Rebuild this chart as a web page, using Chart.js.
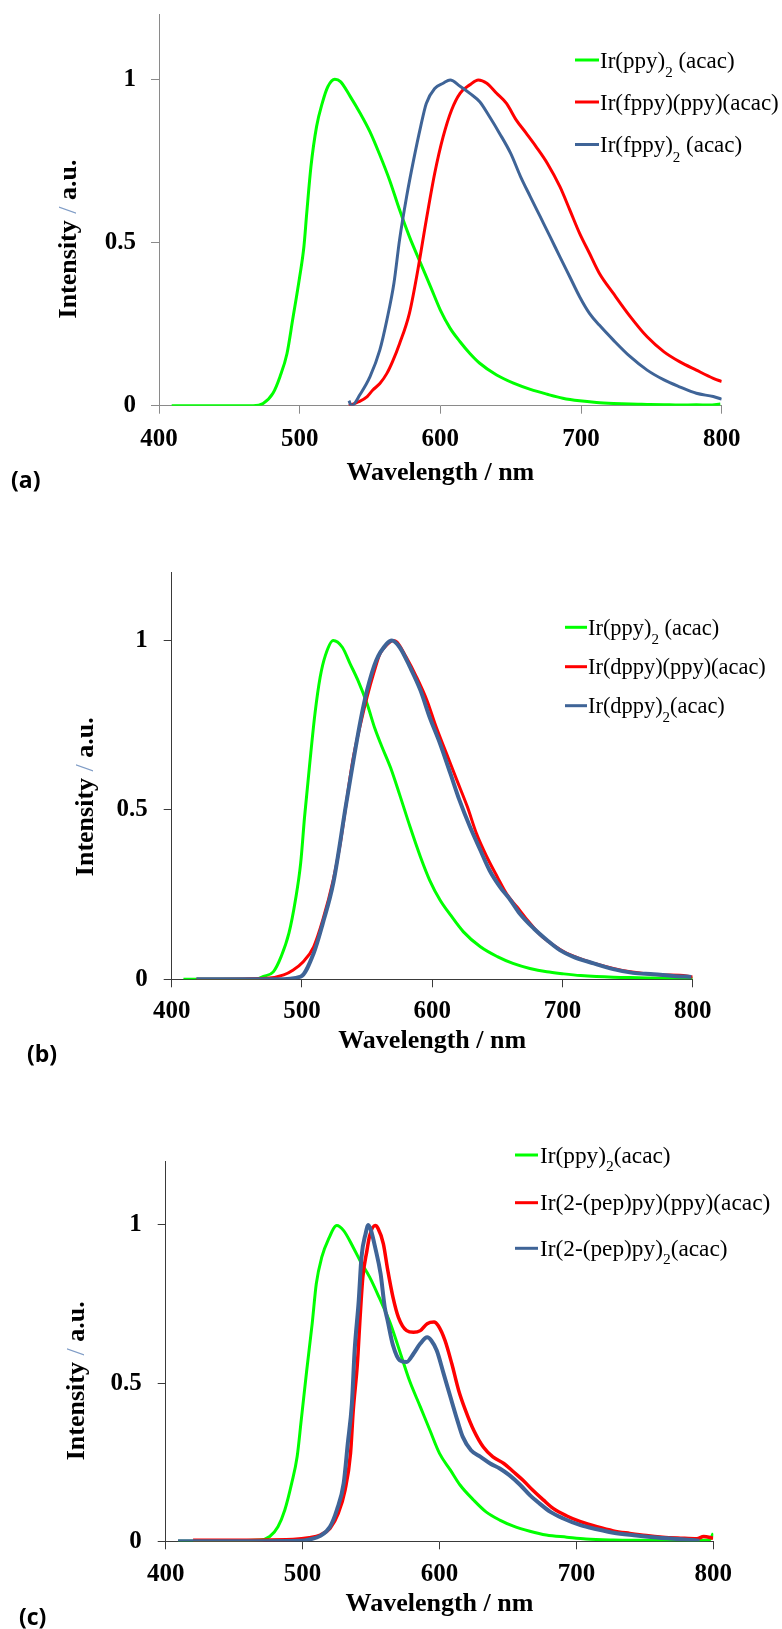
<!DOCTYPE html>
<html>
<head>
<meta charset="utf-8">
<title>Emission spectra</title>
<script src="https://cdn.jsdelivr.net/npm/chart.js@4.4.1/dist/chart.umd.min.js"></script>
<style>
  html, body { margin: 0; padding: 0; background: #fff; }
  #page { position: relative; width: 782px; height: 1629px; overflow: hidden; background: #fff; }
  canvas.panel { position: absolute; left: 0; }
  .tag { position: absolute; font-family: 'Open Sans', 'Noto Sans', sans-serif; font-weight: 700;
         font-size: 23px; line-height: 30px; color: #000; }
</style>
</head>
<body>
<div id="page">
  <canvas id="chartA" class="panel" width="782" height="500" style="top:0;width:782px;height:500px"></canvas>
  <canvas id="chartB" class="panel" width="782" height="560" style="top:500px;width:782px;height:560px"></canvas>
  <canvas id="chartC" class="panel" width="782" height="569" style="top:1060px;width:782px;height:569px"></canvas>
  <div class="tag" style="left:11px;top:464px">(a)</div>
  <div class="tag" style="left:27px;top:1038px">(b)</div>
  <div class="tag" style="left:19px;top:1601px">(c)</div>
</div>
<script>
// ---- Shared axis settings ----
const xRange = [400, 800];
const xStep = 100;
const yRange = [0, 1.2];
const yTickValues = [0, 0.5, 1];
const xAxisTitle = 'Wavelength / nm';
const yAxisTitleParts = ['Intensity', ' / ', 'a.u.'];

// ---- Panel (a): fppy series ----
const labelsA = ['Ir(ppy)₂ (acac)', 'Ir(fppy)(ppy)(acac)', 'Ir(fppy)₂ (acac)'];
const wlA_ppy = [409,467,474,481,486,491,495,500,503,505,508,512,516,520,525,529,536,543,550,557,564,571,578,586,593,600,607,614,621,628,640,652,664,676,687,699,711,723,735,747,759,770,782,791,799];
const intA_ppy = [0,0,0.007,0.038,0.089,0.16,0.263,0.395,0.487,0.589,0.732,0.855,0.926,0.977,1.0,0.993,0.947,0.896,0.839,0.768,0.69,0.6,0.518,0.436,0.365,0.293,0.237,0.196,0.16,0.13,0.094,0.069,0.05,0.035,0.023,0.015,0.01,0.007,0.005,0.004,0.003,0.002,0.003,0.002,0.005];
const wlA_mixed = [535,542,548,552,557,562,566,571,578,584,590,596,602,608,614,621,627,633,640,647,654,661,668,676,685,692,699,706,713,723,735,747,759,770,782,794,800];
const intA_mixed = [0,0.012,0.028,0.048,0.068,0.099,0.135,0.19,0.283,0.416,0.569,0.712,0.824,0.906,0.957,0.983,0.998,0.988,0.957,0.926,0.875,0.835,0.794,0.743,0.671,0.6,0.528,0.467,0.406,0.344,0.273,0.211,0.165,0.135,0.109,0.084,0.074];
const wlA_bis = [535,537,543,550,557,562,567,571,576,581,586,590,596,602,607,614,621,628,635,642,650,657,664,671,678,685,692,699,706,713,723,735,747,759,770,782,794,800];
const intA_bis = [0.015,0,0.035,0.089,0.171,0.263,0.375,0.508,0.64,0.753,0.855,0.926,0.972,0.988,0.998,0.979,0.957,0.931,0.885,0.835,0.773,0.702,0.64,0.579,0.518,0.456,0.395,0.334,0.283,0.247,0.201,0.15,0.109,0.079,0.058,0.038,0.028,0.02];

// ---- Panel (b): dppy series ----
const labelsB = ['Ir(ppy)₂ (acac)', 'Ir(dppy)(ppy)(acac)', 'Ir(dppy)₂(acac)'];
const wlB_ppy = [409,465,470,478,484,490,495,499,502,506,510,514,518,524,531,537,543,550,556,561,568,575,583,591,598,606,614,624,637,650,662,675,688,701,714,726,739,752,765,778,790,800];
const intB_ppy = [0,0,0.008,0.022,0.067,0.136,0.234,0.342,0.479,0.637,0.784,0.892,0.956,1.0,0.98,0.931,0.882,0.813,0.74,0.69,0.625,0.545,0.45,0.361,0.293,0.234,0.19,0.14,0.096,0.067,0.047,0.032,0.022,0.016,0.011,0.008,0.006,0.005,0.004,0.003,0.002,0.002];
const wlB_mixed = [419,473,486,493,501,509,516,524,529,534,539,545,550,555,560,566,570,573,580,588,596,603,611,619,627,634,642,650,657,665,673,683,693,703,713,726,739,752,765,778,790,800];
const intB_mixed = [0,0.003,0.013,0.027,0.052,0.096,0.175,0.293,0.391,0.519,0.646,0.754,0.833,0.902,0.961,0.99,1.0,0.995,0.951,0.892,0.823,0.745,0.666,0.587,0.509,0.43,0.361,0.302,0.253,0.214,0.175,0.131,0.101,0.077,0.062,0.045,0.032,0.022,0.016,0.013,0.012,0.007];
const wlB_bis = [419,480,499,509,516,524,534,545,550,557,565,569,575,583,591,598,606,614,621,629,637,644,652,660,667,678,688,698,708,724,739,754,770,785,799];
const intB_bis = [0,0,0.008,0.077,0.165,0.283,0.519,0.764,0.853,0.941,0.99,1.0,0.98,0.921,0.853,0.774,0.696,0.607,0.528,0.45,0.381,0.322,0.273,0.234,0.195,0.15,0.116,0.086,0.067,0.047,0.03,0.019,0.015,0.01,0.007];

// ---- Panel (c): 2-(pep)py series ----
const labelsC = ['Ir(ppy)₂(acac)', 'Ir(2-(pep)py)(ppy)(acac)', 'Ir(2-(pep)py)₂(acac)'];
const wlC_ppy = [409,469,476,482,487,492,496,499,503,507,510,514,519,525,530,537,542,549,556,564,571,578,586,593,600,608,615,625,634,644,654,666,678,693,707,727,751,776,797,800];
const intC_ppy = [0,0.004,0.015,0.046,0.099,0.183,0.267,0.383,0.54,0.688,0.814,0.898,0.956,0.998,0.982,0.929,0.887,0.835,0.77,0.69,0.6,0.509,0.425,0.351,0.278,0.225,0.178,0.13,0.093,0.067,0.048,0.032,0.02,0.013,0.007,0.004,0.003,0.002,0.004,0.025];
const wlC_mixed = [420,493,505,513,520,526,531,535,537,540,542,544,547,549,553,555,559,562,566,570,576,581,586,591,596,599,604,609,614,619,625,632,639,647,654,661,668,676,683,693,703,715,727,739,751,763,776,788,793,800];
const intC_mixed = [0.003,0.006,0.011,0.02,0.041,0.088,0.162,0.278,0.414,0.561,0.708,0.835,0.919,0.966,0.998,0.99,0.94,0.862,0.772,0.708,0.666,0.661,0.666,0.688,0.693,0.682,0.635,0.561,0.477,0.414,0.351,0.298,0.267,0.246,0.22,0.193,0.162,0.13,0.104,0.08,0.062,0.046,0.033,0.025,0.018,0.013,0.01,0.008,0.015,0.01];
const wlC_bis = [409,498,505,513,520,525,530,533,536,538,541,543,546,548,550,553,557,560,562,566,571,576,581,586,591,594,598,603,608,613,617,623,630,637,644,651,659,666,673,681,690,703,715,727,742,756,771,785,790];
const intC_bis = [0,0.002,0.006,0.017,0.046,0.099,0.183,0.309,0.435,0.603,0.761,0.898,0.972,1.0,0.982,0.929,0.845,0.74,0.7,0.62,0.572,0.567,0.593,0.625,0.645,0.635,0.603,0.53,0.456,0.383,0.33,0.288,0.267,0.246,0.23,0.209,0.178,0.146,0.12,0.093,0.073,0.051,0.038,0.027,0.019,0.013,0.008,0.004,0.002];

// ---- Styling ----
const SERIF = "'Liberation Serif', 'Times New Roman', serif";
const GREEN = '#00ff00';
const RED = '#ff0000';
const BLUE = '#3f6497';

function pairUp(wl, vals) {
  return wl.map((x, i) => ({ x: x, y: vals[i] }));
}

function series(label, wl, vals, color, width, order) {
  return {
    label: label,
    data: pairUp(wl, vals),
    borderColor: color,
    backgroundColor: color,
    borderWidth: width,
    pointRadius: 0,
    fill: false,
    cubicInterpolationMode: 'monotone',
    order: order
  };
}

// Legend with real subscripts, drawn on the chart canvas
function splitSubscripts(text) {
  const out = [];
  let buf = '';
  for (const ch of text) {
    if (ch === '₂') {
      if (buf) { out.push({ text: buf, sub: false }); buf = ''; }
      out.push({ text: '2', sub: true });
    } else {
      buf += ch;
    }
  }
  if (buf) out.push({ text: buf, sub: false });
  return out;
}

const spectrumLegend = {
  id: 'spectrumLegend',
  afterDraw(chart, args, o) {
    const ctx = chart.ctx;
    chart.data.datasets.forEach((ds, i) => {
      const y = o.rows[i];
      ctx.save();
      ctx.strokeStyle = ds.borderColor;
      ctx.lineWidth = o.lineWidth;
      ctx.beginPath();
      ctx.moveTo(o.x1, y);
      ctx.lineTo(o.x2, y);
      ctx.stroke();
      ctx.fillStyle = '#000';
      ctx.textBaseline = 'alphabetic';
      ctx.textAlign = 'left';
      const base = y + o.size * 0.33;
      let x = o.textX;
      for (const seg of splitSubscripts(ds.label)) {
        ctx.font = (seg.sub ? o.subSize : o.size) + 'px ' + SERIF;
        ctx.fillText(seg.text, x, seg.sub ? base + o.subDrop : base);
        x += ctx.measureText(seg.text).width;
      }
      ctx.restore();
    });
  }
};

// Vertical axis title: bold words with a thin tinted slash
const intensityTitle = {
  id: 'intensityTitle',
  afterDraw(chart, args, o) {
    const ctx = chart.ctx;
    const styles = [
      { font: 'bold 26px ' + SERIF, color: '#000' },
      { font: '26px ' + SERIF, color: '#7f9cc6' },
      { font: 'bold 26px ' + SERIF, color: '#000' }
    ];
    ctx.save();
    let total = 0;
    const widths = yAxisTitleParts.map((t, i) => {
      ctx.font = styles[i].font;
      const w = ctx.measureText(t).width;
      total += w;
      return w;
    });
    ctx.translate(o.x, o.y);
    ctx.rotate(-Math.PI / 2);
    ctx.textBaseline = 'middle';
    ctx.textAlign = 'left';
    let cx = -total / 2;
    yAxisTitleParts.forEach((t, i) => {
      ctx.font = styles[i].font;
      ctx.fillStyle = styles[i].color;
      ctx.fillText(t, cx, 0);
      cx += widths[i];
    });
    ctx.restore();
  }
};

function makePanel(canvasId, datasets, L) {
  const tickFont = { family: SERIF, size: 25, weight: 'bold' };
  const gridOpts = { display: true, drawOnChartArea: false, drawTicks: true, tickLength: 8, color: L.axis, lineWidth: 1 };
  return new Chart(document.getElementById(canvasId), {
    type: 'line',
    data: { datasets: datasets },
    plugins: [spectrumLegend, intensityTitle],
    options: {
      responsive: false,
      animation: false,
      devicePixelRatio: 1,
      layout: { padding: { left: 0, top: L.top, right: L.right, bottom: L.bottom } },
      plugins: {
        legend: { display: false },
        tooltip: { enabled: false },
        spectrumLegend: L.legend,
        intensityTitle: L.yTitle
      },
      scales: {
        x: {
          type: 'linear', position: 'bottom', min: xRange[0], max: xRange[1],
          ticks: { stepSize: xStep, font: tickFont, color: '#000', padding: L.xPad, maxRotation: 0, autoSkip: false,
                   callback: v => String(v) },
          grid: gridOpts,
          border: { display: true, color: L.axis, width: 1 },
          title: { display: true, text: xAxisTitle, color: '#000', padding: 0,
                   font: { family: SERIF, size: 26, weight: 'bold' } },
          afterFit(s) { s.height = L.xHeight; s.paddingLeft = 0; s.paddingRight = 0; }
        },
        y: {
          type: 'linear', position: 'left', min: yRange[0], max: yRange[1],
          afterBuildTicks(s) { s.ticks = yTickValues.map(v => ({ value: v })); },
          ticks: { font: tickFont, color: '#000', padding: L.yPad, callback: v => String(v) },
          grid: gridOpts,
          border: { display: true, color: L.axis, width: 1 },
          afterFit(s) { s.width = L.left; s.paddingTop = 0; s.paddingBottom = 0; }
        }
      }
    }
  });
}

makePanel('chartA', [
  series(labelsA[0], wlA_ppy, intA_ppy, GREEN, 3, 2),
  series(labelsA[1], wlA_mixed, intA_mixed, RED, 3, 1),
  series(labelsA[2], wlA_bis, intA_bis, BLUE, 3, 0)
], {
  top: 14, right: 60.3, bottom: 11.4, left: 159, xHeight: 82.9, xPad: 11, yPad: 15, axis: '#8a8a8a',
  legend: { x1: 575, x2: 599, textX: 600, rows: [60, 102, 144.5], size: 23, subSize: 15, subDrop: 9.5, lineWidth: 3 },
  yTitle: { x: 69, y: 239 }
});

makePanel('chartB', [
  series(labelsB[0], wlB_ppy, intB_ppy, GREEN, 3, 2),
  series(labelsB[1], wlB_mixed, intB_mixed, RED, 3, 1),
  series(labelsB[2], wlB_bis, intB_bis, BLUE, 4, 0)
], {
  top: 72.7, right: 89.3, bottom: 3.4, left: 171.7, xHeight: 77.3, xPad: 9.5, yPad: 16, axis: '#3a3a3a',
  legend: { x1: 565, x2: 587, textX: 588, rows: [127.3, 166.7, 205.7], size: 22.4, subSize: 15, subDrop: 9, lineWidth: 3 },
  yTitle: { x: 86, y: 296.7 }
});

makePanel('chartC', [
  series(labelsC[0], wlC_ppy, intC_ppy, GREEN, 3, 2),
  series(labelsC[1], wlC_mixed, intC_mixed, RED, 3.5, 1),
  series(labelsC[2], wlC_bis, intC_bis, BLUE, 4, 0)
], {
  top: 101.7, right: 68.7, bottom: 8.9, left: 165.7, xHeight: 78.8, xPad: 10.7, yPad: 16, axis: '#3a3a3a',
  legend: { x1: 515, x2: 538, textX: 540, rows: [95, 142.7, 188.3], size: 23.3, subSize: 15.5, subDrop: 8, lineWidth: 3 },
  yTitle: { x: 77, y: 320.8 }
});
</script>
</body>
</html>
